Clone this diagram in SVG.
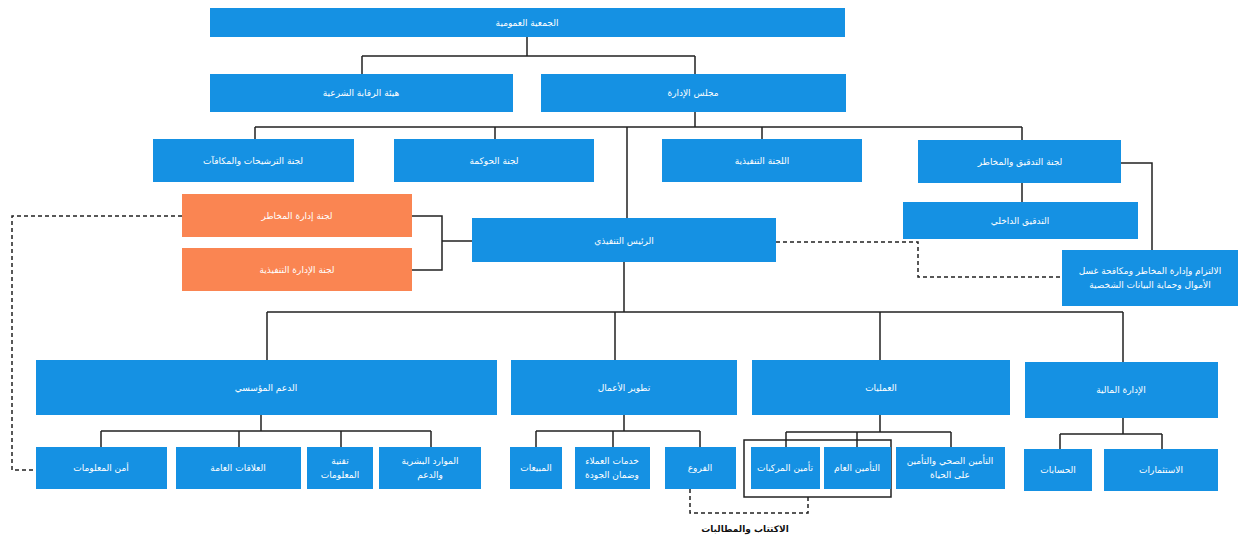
<svg xmlns="http://www.w3.org/2000/svg" width="1244" height="543" viewBox="0 0 1244 543">
<style>
.b{fill:#1591E3}
.o{fill:#FA8552}
.t{font-family:"DejaVu Sans",sans-serif;font-size:9px;fill:#fff;text-anchor:middle;direction:rtl;dominant-baseline:middle}
.l{fill:none;stroke:#222;stroke-width:1.5}
.d{fill:none;stroke:#222;stroke-width:1.5;stroke-dasharray:4 3}
.lb{font-family:"DejaVu Sans",sans-serif;font-size:9px;font-weight:bold;fill:#111;text-anchor:middle;direction:rtl}
</style>
<rect width="1244" height="543" fill="#fff"/>
<g id="connectors">
<path class="l" d="M527 37V56M362 56H695M362 56V74M695 56V74"/>
<path class="l" d="M695 112V127M255 127H1022M255 127V139M495 127V139M762 127V139M1022 127V140M627 127V218"/>
<path class="l" d="M1022 183V202M1121 163H1152V250"/>
<path class="d" d="M776 242H918V277H1062"/>
<path class="l" d="M412 216H442V270H412M442 241H472"/>
<path class="d" d="M182 216H12V470H36"/>
<path class="l" d="M624 262V312M267 312H1123M267 312V360M615 312V360M880 312V360M1123 312V362"/>
<path class="l" d="M261 415V431M101 431H431M101 431V447M239 431V447M341 431V447M431 431V447"/>
<path class="l" d="M624 415V431M536 431H700M536 431V447M613 431V447M700 431V447"/>
<path class="l" d="M880 415V432M786 432H951M786 432V447M857 432V447M951 432V447"/>
<path class="l" d="M1123 418V434M1060 434H1162M1060 434V449M1162 434V449"/>
<rect class="l" x="744" y="440" width="147" height="57"/>
<path class="d" d="M808 497V513H690V489"/>
</g>
<g id="n1"><rect class="b" x="210" y="8" width="635" height="29"/><text class="t" x="527" y="23">الجمعية العمومية</text></g>
<g id="n2"><rect class="b" x="210" y="74" width="303" height="38"/><text class="t" x="361" y="93">هيئة الرقابة الشرعية</text></g>
<g id="n3"><rect class="b" x="541" y="74" width="305" height="38"/><text class="t" x="693" y="93">مجلس الإدارة</text></g>
<g id="n4"><rect class="b" x="153" y="139" width="201" height="43"/><text class="t" x="253" y="161">لجنة الترشيحات والمكافآت</text></g>
<g id="n5"><rect class="b" x="394" y="139" width="200" height="43"/><text class="t" x="494" y="161">لجنة الحوكمة</text></g>
<g id="n6"><rect class="b" x="662" y="139" width="200" height="43"/><text class="t" x="762" y="161">اللجنة التنفيذية</text></g>
<g id="n7"><rect class="b" x="918" y="140" width="203" height="43"/><text class="t" x="1020" y="162">لجنة التدقيق والمخاطر</text></g>
<g id="n8"><rect class="b" x="903" y="202" width="235" height="37"/><text class="t" x="1020" y="221">التدقيق الداخلي</text></g>
<g id="n9"><rect class="b" x="1062" y="250" width="176" height="56"/><text class="t" x="1150" y="271">الالتزام وإدارة المخاطر ومكافحة غسل</text><text class="t" x="1150" y="285">الأموال وحماية البيانات الشخصية</text></g>
<g id="n10"><rect class="b" x="472" y="218" width="304" height="44"/><text class="t" x="624" y="241">الرئيس التنفيذي</text></g>
<g id="n11"><rect class="o" x="182" y="194" width="230" height="43"/><text class="t" x="297" y="216">لجنة إدارة المخاطر</text></g>
<g id="n12"><rect class="o" x="182" y="248" width="230" height="43"/><text class="t" x="297" y="270">لجنة الإدارة التنفيذية</text></g>
<g id="n13"><rect class="b" x="36" y="360" width="461" height="55"/><text class="t" x="266" y="388">الدعم المؤسسي</text></g>
<g id="n14"><rect class="b" x="511" y="360" width="226" height="55"/><text class="t" x="624" y="388">تطوير الأعمال</text></g>
<g id="n15"><rect class="b" x="752" y="360" width="258" height="55"/><text class="t" x="881" y="388">العمليات</text></g>
<g id="n16"><rect class="b" x="1025" y="362" width="193" height="56"/><text class="t" x="1121" y="390">الإدارة المالية</text></g>
<g id="n17"><rect class="b" x="36" y="447" width="131" height="42"/><text class="t" x="101" y="468">أمن المعلومات</text></g>
<g id="n18"><rect class="b" x="176" y="447" width="125" height="42"/><text class="t" x="238" y="468">العلاقات العامة</text></g>
<g id="n19"><rect class="b" x="307" y="447" width="66" height="42"/><text class="t" x="340" y="461">تقنية</text><text class="t" x="340" y="475">المعلومات</text></g>
<g id="n20"><rect class="b" x="379" y="447" width="102" height="42"/><text class="t" x="430" y="461">الموارد البشرية</text><text class="t" x="430" y="475">والدعم</text></g>
<g id="n21"><rect class="b" x="510" y="447" width="52" height="42"/><text class="t" x="536" y="468">المبيعات</text></g>
<g id="n22"><rect class="b" x="575" y="447" width="75" height="42"/><text class="t" x="612" y="461">خدمات العملاء</text><text class="t" x="612" y="475">وضمان الجودة</text></g>
<g id="n23"><rect class="b" x="665" y="447" width="71" height="42"/><text class="t" x="700" y="468">الفروع</text></g>
<g id="n24"><rect class="b" x="751" y="447" width="69" height="42"/><text class="t" x="785" y="468">تأمين المركبات</text></g>
<g id="n25"><rect class="b" x="824" y="447" width="67" height="42"/><text class="t" x="857" y="468">التأمين العام</text></g>
<g id="n26"><rect class="b" x="896" y="447" width="109" height="42"/><text class="t" x="950" y="461">التأمين الصحي والتأمين</text><text class="t" x="950" y="475">على الحياة</text></g>
<g id="n27"><rect class="b" x="1024" y="449" width="68" height="42"/><text class="t" x="1058" y="470">الحسابات</text></g>
<g id="n28"><rect class="b" x="1104" y="449" width="114" height="42"/><text class="t" x="1161" y="470">الاستثمارات</text></g>
<g id="lbl"><text class="lb" x="745" y="532">الاكتتاب والمطالبات</text></g>
</svg>
